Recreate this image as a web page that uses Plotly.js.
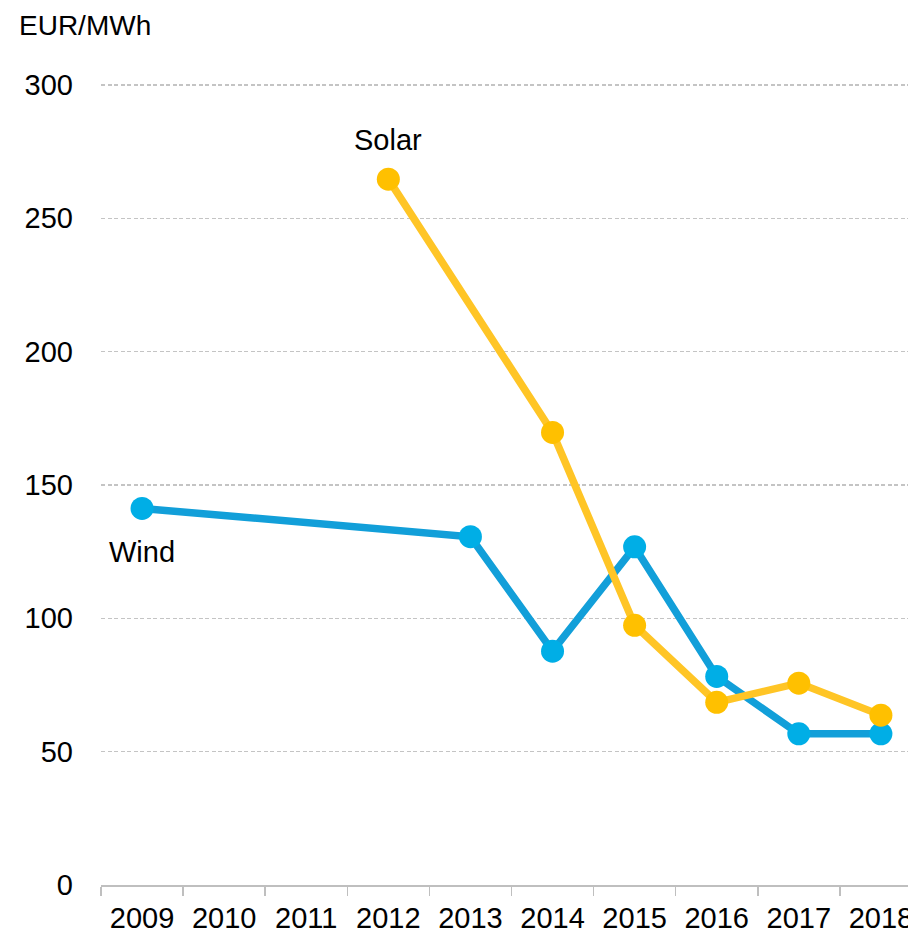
<!DOCTYPE html>
<html>
<head>
<meta charset="utf-8">
<script src="https://cdn.plot.ly/plotly-3.0.1.min.js"></script>
<style>html,body{margin:0;padding:0;background:#fff;overflow:hidden;}</style>
</head>
<body>
<div id="chart" style="width:908px;height:935px;"></div>
<script>
const years = ["2009","2010","2011","2012","2013","2014","2015","2016","2017","2018"];
const windValues = [141.2, null, null, null, 130.6, 87.7, 126.8, 78.2, 56.7, 56.7];
const solarValues = [null, null, null, 264.7, null, 169.7, 97.4, 68.5, 75.7, 63.7];
const yTicks = [0, 50, 100, 150, 200, 250, 300];
const unitLabel = "EUR/MWh";

const FONT = "Liberation Sans, Arial, sans-serif";
const FS = 29;

const traces = [
  {
    x: years, y: windValues, type: "scatter", mode: "lines+markers", name: "Wind",
    connectgaps: true,
    line: {color: "#129FD9", width: 7.5},
    marker: {color: "#00AEE6", size: 23},
    cliponaxis: false, hoverinfo: "skip"
  },
  {
    x: years, y: solarValues, type: "scatter", mode: "lines+markers", name: "Solar",
    connectgaps: true,
    line: {color: "#FFC526", width: 7.5},
    marker: {color: "#FFC000", size: 23},
    cliponaxis: false, hoverinfo: "skip"
  }
];

const layout = {
  width: 908, height: 935,
  margin: {l: 101, r: 0, t: 83, b: 50, pad: 0},
  paper_bgcolor: "#ffffff", plot_bgcolor: "#ffffff",
  showlegend: false,
  font: {family: FONT, size: FS, color: "#000000"},
  xaxis: {
    type: "category",
    categoryorder: "array", categoryarray: years,
    range: [-0.5, 9.33],
    tickson: "boundaries",
    ticks: "outside", ticklen: 9, tickwidth: 1.5, tickcolor: "#BFBFBF",
    showline: true, linecolor: "#BFBFBF", linewidth: 1.5,
    showgrid: false, zeroline: false,
    tickfont: {family: FONT, size: FS, color: "#000"},
    ticklabelstandoff: 7,
    fixedrange: true
  },
  yaxis: {
    range: [0, 300.75],
    tickvals: yTicks,
    ticktext: yTicks.map(String),
    ticks: "",
    showline: false, zeroline: false,
    showgrid: true, gridcolor: "#C4C4C4", gridwidth: 1.2, griddash: "4px,2.5px",
    tickfont: {family: FONT, size: FS, color: "#000"},
    ticklabelstandoff: 27,
    fixedrange: true
  },
  annotations: [
    {text: unitLabel, xref: "paper", yref: "paper", x: (17 - 101) / 807, y: 1 + (83 - 26) / 802,
     xanchor: "left", yanchor: "middle", showarrow: false, font: {family: FONT, size: 28, color: "#000"}},
    {text: "Solar", xref: "x", yref: "y", x: 3, y: 279.5, xanchor: "center", yanchor: "middle",
     showarrow: false, font: {family: FONT, size: FS, color: "#000"}},
    {text: "Wind", xref: "x", yref: "y", x: 0, y: 125, xanchor: "center", yanchor: "middle",
     showarrow: false, font: {family: FONT, size: FS, color: "#000"}}
  ]
};

Plotly.newPlot("chart", traces, layout, {displayModeBar: false, staticPlot: true});
</script>
</body>
</html>
